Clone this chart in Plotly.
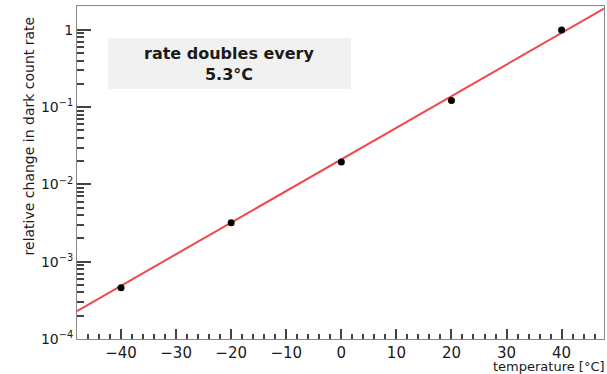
import plotly.graph_objects as go

# ---- data ----
temperature = [-40, -20, 0, 20, 40]
rel_rate = [4.6e-4, 3.2e-3, 1.95e-2, 0.122, 1.0]

fit_log10_intercept = -1.675   # log10(rate) at 0 degC
fit_log10_slope = 0.0409       # per degC
fit_temperature = [-48.0, 47.7]

y_tickvals = [1e-4, 1e-3, 1e-2, 1e-1, 1]
y_ticktext = ["10<sup>−4</sup>", "10<sup>−3</sup>", "10<sup>−2</sup>", "10<sup>−1</sup>", "1"]
y_minor_vals = [k * 10.0 ** d for d in range(-4, 1) for k in range(2, 10)]

box_text = "rate doubles every<br>5.3°C"
x_title = "temperature [°C]"
y_title = "relative change in dark count rate"

fit_rate = [10 ** (fit_log10_intercept + fit_log10_slope * t) for t in fit_temperature]

FONT = "DejaVu Sans"
TXT = "#1a1a1a"
AX = "#444444"
FRAME = "#888888"
YRANGE = [-4, 0.31]

fig = go.Figure()
fig.add_trace(go.Scatter(
    x=fit_temperature, y=fit_rate, mode="lines",
    line=dict(color="#f04848", width=2), showlegend=False, hoverinfo="skip"))
fig.add_trace(go.Scatter(
    x=temperature, y=rel_rate, mode="markers",
    marker=dict(color="black", size=7, symbol="circle"), showlegend=False))
fig.add_trace(go.Scatter(
    x=fit_temperature, y=fit_rate, mode="lines", yaxis="y2",
    line=dict(color="rgba(0,0,0,0)", width=0), showlegend=False, hoverinfo="skip"))

fig.update_layout(
    width=607, height=374,
    margin=dict(l=77, r=3, t=6, b=35),
    plot_bgcolor="white",
    font=dict(family=FONT, size=14, color=TXT),
    showlegend=False,
    xaxis=dict(
        range=fit_temperature, showgrid=False, zeroline=False,
        showline=True, mirror=True, linecolor=FRAME,
        ticks="inside", ticklen=10, tickwidth=2, tickcolor=AX,
        dtick=10, tick0=0,
        minor=dict(ticks="inside", ticklen=5, tickwidth=2, tickcolor=AX, dtick=2, showgrid=False),
        tickfont=dict(family=FONT, size=15, color=TXT),
    ),
    yaxis=dict(
        type="log", range=YRANGE, showgrid=False, zeroline=False,
        showline=True, mirror=True, linecolor=FRAME,
        ticks="inside", ticklen=14, tickwidth=2, tickcolor=AX,
        tickvals=y_tickvals, ticktext=y_ticktext,
        tickfont=dict(family=FONT, size=14, color=TXT),
        ticklabelstandoff=0,
    ),
    yaxis2=dict(
        overlaying="y", side="left", type="log", range=YRANGE,
        showgrid=False, zeroline=False, showline=False,
        tickvals=y_minor_vals, showticklabels=False,
        ticks="inside", ticklen=7, tickwidth=2, tickcolor=AX,
    ),
)

# text box
fig.add_shape(type="rect", xref="paper", yref="paper",
              x0=0.0588, x1=0.52, y0=0.751, y1=0.904,
              fillcolor="#f1f1f1", line=dict(width=0), layer="below")
fig.add_annotation(xref="paper", yref="paper", x=0.289, y=0.827,
                   text="<b>" + box_text + "</b>", showarrow=False,
                   font=dict(family=FONT, size=16, color=TXT),
                   xanchor="center", yanchor="middle", align="center")
# axis titles
fig.add_annotation(xref="paper", yref="paper", x=1.0, y=-0.083,
                   text=x_title, showarrow=False, xanchor="right", yanchor="middle",
                   font=dict(family=FONT, size=13, color=TXT), xshift=3)
fig.add_annotation(xref="paper", yref="paper", x=-0.0893, y=0.976,
                   text=y_title, showarrow=False, textangle=-90,
                   xanchor="center", yanchor="top",
                   font=dict(family=FONT, size=14, color=TXT))

fig.write_html("out.html")
